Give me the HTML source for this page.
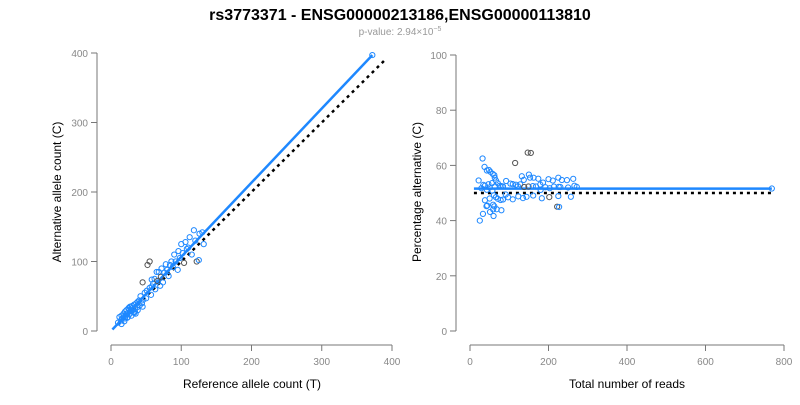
<!DOCTYPE html>
<html><head><meta charset="utf-8"><style>
body{margin:0;background:#fff;font-family:"Liberation Sans",Arial,sans-serif}
</style></head><body>
<svg id="c" width="800" height="400" xmlns="http://www.w3.org/2000/svg">
<text x="400" y="20" text-anchor="middle" font-size="16" font-weight="bold" fill="#000">rs3773371 - ENSG00000213186,ENSG00000113810</text>
<text x="400" y="35" text-anchor="middle" font-size="10" fill="#999">p-value: 2.94×10<tspan dy="-4" font-size="7">−5</tspan></text>
<g id="L"></g>
<g id="R"></g>
</svg>
<script>
const refCounts=[10,12,14,15,16,18,19,20,21,22,23,24,25,26,27,28,29,30,31,32,33,34,35,36,37,38,40,41,42,44,45,46,48,50,51,52,55,55,57,58,60,62,63,65,66,68,70,71,72,74,76,78,80,82,84,86,88,90,92,95,96,98,100,102,104,106,108,110,112,115,118,120,122,125,126,130,132,15,18,22,26,30,34,38,28,24,20,33,45,58,372];
const altCounts=[12,20,15,22,18,25,14,28,22,30,19,26,33,24,35,29,22,36,30,27,38,32,25,40,34,30,44,37,50,40,70,45,55,47,58,95,100,62,52,74,68,75,60,85,72,85,65,78,90,70,84,96,88,79,95,100,92,110,100,88,115,105,125,112,98,128,118,120,135,110,145,130,100,102,140,142,125,10,20,25,30,33,28,42,35,20,18,26,35,64,397];
const greyIdx=[35,36,44,47,64,72,30];
const leftTicks=[0,100,200,300,400];
const rightXTicks=[0,200,400,600,800];
const rightYTicks=[0,20,40,60,80,100];
const fitSlope=1.067;
const nullSlope=1.0;
const fitPct=51.6;
const nullPct=50;

const NS="http://www.w3.org/2000/svg";
function mk(p,t,a){const e=document.createElementNS(NS,t);for(const k in a)e.setAttribute(k,a[k]);p.appendChild(e);return e;}
const L=document.getElementById('L'),R=document.getElementById('R');
const lx=v=>111+v*(392-111)/400, ly=v=>331-v*(331-53)/400;
const rx=v=>470+v*(784-470)/800, ry=v=>331-v*(331-55)/100;
const ax="#777";
function axes(g,xs,ys,xf,yf,xAxisY,yAxisX,xt,yt,xl,yl,xTitle,yTitle,pfx){
  let e=mk(g,'line',{x1:xf(xt[0]),x2:xf(xt[xt.length-1]),y1:xAxisY,y2:xAxisY,stroke:ax});
  
  e=mk(g,'line',{x1:yAxisX,x2:yAxisX,y1:yf(yt[0]),y2:yf(yt[yt.length-1]),stroke:ax});
  
  xt.forEach(v=>{mk(g,'line',{x1:xf(v),x2:xf(v),y1:xAxisY,y2:xAxisY+6,stroke:ax});
    const t=mk(g,'text',{x:xf(v),y:xAxisY+20,'text-anchor':'middle','font-size':10,fill:'#888'});t.textContent=v;
    });
  yt.forEach(v=>{mk(g,'line',{x1:yAxisX-6,x2:yAxisX,y1:yf(v),y2:yf(v),stroke:ax});
    const t=mk(g,'text',{x:yAxisX-9,y:yf(v)+4,'text-anchor':'end','font-size':10,fill:'#888'});t.textContent=v;
    });
  let t=mk(g,'text',{x:xl[0],y:xl[1],'text-anchor':'middle','font-size':12,fill:'#000'});t.textContent=xTitle;
  
  t=mk(g,'text',{x:yl[0],y:yl[1],'text-anchor':'middle','font-size':12,fill:'#000',transform:`rotate(-90 ${yl[0]} ${yl[1]})`});t.textContent=yTitle;
  
}
axes(L,0,0,lx,ly,345,97,leftTicks,leftTicks,[252,388],[61,192],'Reference allele count (T)','Alternative allele count (C)','left');
axes(R,0,0,rx,ry,345,456,rightXTicks,rightYTicks,[627,388],[421,192],'Total number of reads','Percentage alternative (C)','right');

// left lines
let e=mk(L,'line',{x1:lx(10),y1:ly(10*nullSlope),x2:lx(390),y2:ly(390*nullSlope),stroke:'#000','stroke-width':2.5,'stroke-dasharray':'3,4'});

const maxRef=Math.max(...refCounts);
e=mk(L,'line',{x1:lx(2),y1:ly(2*fitSlope),x2:lx(maxRef),y2:ly(maxRef*fitSlope),stroke:'#1e88ff','stroke-width':2.5});

const totals=refCounts.map((r,i)=>r+altCounts[i]);
const maxT=Math.max(...totals);
e=mk(R,'line',{x1:rx(10),y1:ry(nullPct),x2:rx(maxT),y2:ry(nullPct),stroke:'#000','stroke-width':2.5,'stroke-dasharray':'3,4'});

e=mk(R,'line',{x1:rx(10),y1:ry(fitPct),x2:rx(maxT),y2:ry(fitPct),stroke:'#1e88ff','stroke-width':2.5});


refCounts.forEach((r,i)=>{
  const a=altCounts[i],col=greyIdx.includes(i)?'#555':'#1e88ff';
  const c=mk(L,'circle',{cx:lx(r),cy:ly(a),r:2.6,fill:'none',stroke:col,'stroke-width':1});
  
  
  const t=r+a;
  const d=mk(R,'circle',{cx:rx(t),cy:ry(a/t*100),r:2.6,fill:'none',stroke:col,'stroke-width':1});
  
  
});
</script>
</body></html>
